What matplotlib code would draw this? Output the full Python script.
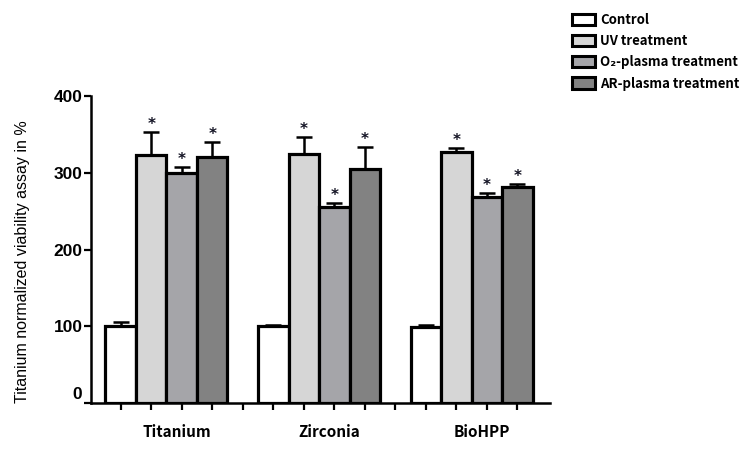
"""
Grouped bar chart of normalized viability per material and treatment.
"""
# Library import
import numpy as np
import matplotlib.pyplot as plt
from matplotlib.patches import Patch
from matplotlib.transforms import ScaledTranslation

# Data
materials = ["Titanium", "Zirconia", "BioHPP"]
treatments = ["Control", "UV treatment", "O₂-plasma treatment", "AR-plasma treatment"]
control_mean = [100, 100, 99]
uv_mean = [323, 324, 327]
o2_mean = [300, 256, 269]
ar_mean = [320, 305, 281]
control_err = [6, 1, 3]
uv_err = [30, 22, 5]
o2_err = [7, 5, 4]
ar_err = [20, 29, 4]
significant = [[False, True, True, True]] * 3
y_ticks = [0, 100, 200, 300, 400]

# Style
colors = ["#ffffff", "#d6d6d6", "#a5a5a9", "#828282"]
cjk = ["Noto Sans CJK SC", "DejaVu Sans"]

means = np.array([control_mean, uv_mean, o2_mean, ar_mean])
errs = np.array([control_err, uv_err, o2_err, ar_err])

fig = plt.figure(figsize=(7.5, 4.51), dpi=100)
ax = fig.add_axes([0.121, 0.1064, 0.612, 0.6807])

# Bars: 4 per group, one empty slot between groups
n_t = len(treatments)
for j in range(n_t):
    xs = np.arange(len(materials)) * (n_t + 1) + j
    ax.bar(xs, means[j], width=1.0, color=colors[j], edgecolor="black",
           linewidth=2.3, zorder=3)
    ax.errorbar(xs, means[j], yerr=[np.zeros(len(xs)), errs[j]], fmt="none",
                ecolor="black", elinewidth=1.8, capsize=6, capthick=1.8, zorder=2)
    for i, x in enumerate(xs):
        if significant[i][j]:
            ax.annotate("*", (x, means[j][i] + errs[j][i]), xytext=(0, 0),
                        textcoords="offset points", ha="center", va="bottom",
                        fontsize=11, fontweight="bold", color="#111122")

# Axis configuration
n_pos = len(materials) * (n_t + 1) - 1
ax.set_xlim(-0.98, n_pos + 0.06)
ax.set_ylim(0, 400)
ax.set_xticks(np.arange(n_pos))
ax.set_xticklabels([])
ax.set_yticks(y_ticks)
ax.set_yticklabels([str(v) for v in y_ticks], fontsize=12.5, fontweight="bold",
                   family="Liberation Sans")
ax.tick_params(axis="both", direction="out", width=1.6, length=5)
ax.tick_params(axis="y", pad=1)
for s in ["top", "right"]:
    ax.spines[s].set_visible(False)
for s in ["left", "bottom"]:
    ax.spines[s].set_linewidth(1.8)

# Nudge "0" label up like the original
zero_lbl = ax.get_yticklabels()[0]
zero_lbl.set_transform(zero_lbl.get_transform()
                       + ScaledTranslation(0, 7 / 72, fig.dpi_scale_trans))

# Category labels
for i, name in enumerate(materials):
    ax.text(i * (n_t + 1) + 1.83, -0.095, name, transform=ax.get_xaxis_transform(),
            ha="center", va="center", fontsize=11, fontweight="bold", family=cjk)

fig.text(0.03, 1 - 262 / 451, "Titanium normalized viability assay in %",
         rotation=90, ha="center", va="center", fontsize=11.5,
         family="Liberation Sans")

# Legend
handles = [Patch(facecolor=c, edgecolor="black", linewidth=2.2) for c in colors]
leg = fig.legend(handles, treatments, loc="upper left",
                 bbox_to_anchor=(0.747, 0.998), frameon=False,
                 prop={"family": cjk, "weight": "bold", "size": 9.5},
                 handlelength=1.7, handleheight=0.95, handletextpad=0.4,
                 labelspacing=0.55)

fig.savefig("out.png", dpi=100)
